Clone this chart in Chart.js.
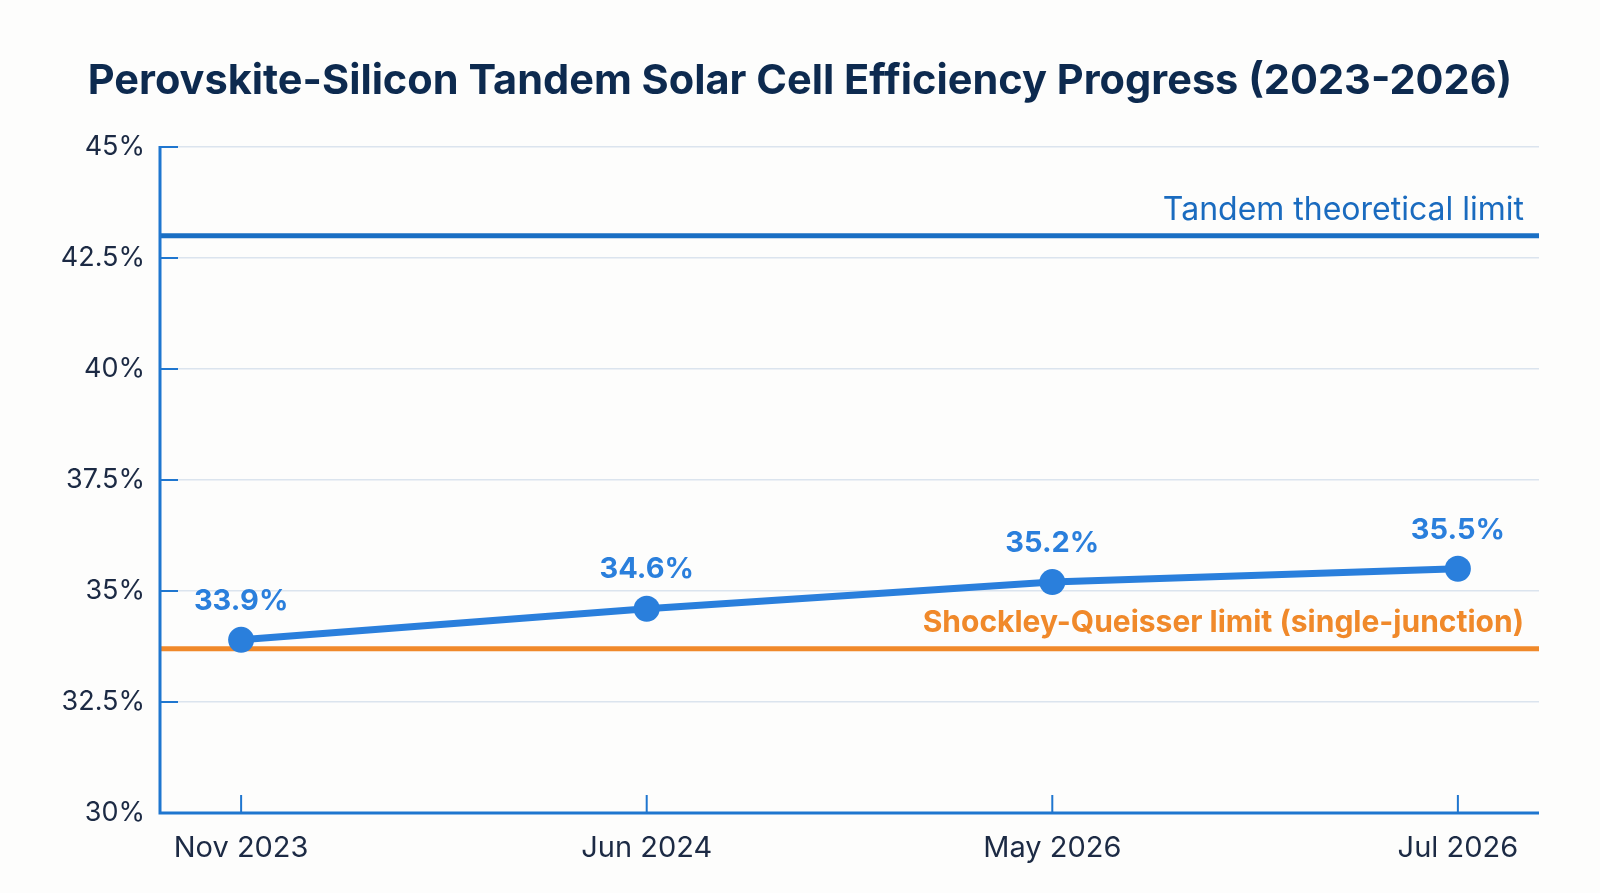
<!DOCTYPE html>
<html>
<head>
<meta charset="utf-8">
<script src="https://cdn.jsdelivr.net/npm/chart.js@4.4.1/dist/chart.umd.min.js"></script>
<style>
html,body{margin:0;padding:0;background:#fdfdfc;}
#wrap{width:1600px;height:893px;position:relative;}
</style>
</head>
<body>
<div id="wrap"><canvas id="c" width="1600" height="893"></canvas></div>
<script>
const titleText = 'Perovskite-Silicon Tandem Solar Cell Efficiency Progress (2023-2026)';
const categories = ['Nov 2023', 'Jun 2024', 'May 2026', 'Jul 2026'];
const efficiency = [33.9, 34.6, 35.2, 35.5];
const tandemLimit = 43.0;
const sqLimit = 33.7;
const tandemLabel = 'Tandem theoretical limit';
const sqLabel = 'Shockley-Queisser limit (single-junction)';
const yTicks = [30, 32.5, 35, 37.5, 40, 42.5, 45];

const FONT = 'Inter, "Open Sans", sans-serif';
const BLUE = '#2a7fdc';
const AXIS = '#1f76cf';

const xMin = -0.2, xMax = categories.length - 1 + 0.2;

const overlay = {
  id: 'overlay',
  afterDraw(chart) {
    const ctx = chart.ctx;
    const xs = chart.scales.x, ys = chart.scales.y;
    const area = chart.chartArea;
    ctx.save();
    // title
    ctx.fillStyle = '#0d2a4f';
    ctx.font = 'bold 41.5px ' + FONT;
    ctx.textAlign = 'center';
    ctx.textBaseline = 'middle';
    ctx.fillText(titleText, 800, 82);
    // axes
    ctx.strokeStyle = AXIS;
    ctx.lineWidth = 3;
    ctx.beginPath();
    ctx.moveTo(area.left, area.top - 1);
    ctx.lineTo(area.left, area.bottom);
    ctx.lineTo(area.right, area.bottom);
    ctx.stroke();
    // inner ticks
    ctx.lineWidth = 2;
    yTicks.forEach(v => {
      const y = ys.getPixelForValue(v);
      ctx.beginPath(); ctx.moveTo(area.left, y); ctx.lineTo(area.left + 18, y); ctx.stroke();
    });
    categories.forEach((c, i) => {
      const x = xs.getPixelForValue(i);
      ctx.beginPath(); ctx.moveTo(x, area.bottom); ctx.lineTo(x, area.bottom - 18); ctx.stroke();
    });
    // limit labels
    ctx.textAlign = 'right';
    ctx.textBaseline = 'middle';
    ctx.fillStyle = '#1a6bbf';
    ctx.font = '32px ' + FONT;
    ctx.fillText(tandemLabel, area.right - 15, ys.getPixelForValue(tandemLimit) - 25);
    ctx.fillStyle = '#f0892a';
    ctx.font = 'bold 30px ' + FONT;
    ctx.fillText(sqLabel, area.right - 15, ys.getPixelForValue(sqLimit) - 26);
    // value labels
    ctx.textAlign = 'center';
    ctx.fillStyle = BLUE;
    ctx.font = 'bold 29px ' + FONT;
    efficiency.forEach((v, i) => {
      ctx.fillText(v.toFixed(1) + '%', xs.getPixelForValue(i), ys.getPixelForValue(v) - 39);
    });
    ctx.restore();
  }
};

new Chart(document.getElementById('c'), {
  type: 'line',
  data: {
    datasets: [
      {
        data: efficiency.map((v, i) => ({x: i, y: v})),
        borderColor: BLUE, backgroundColor: BLUE,
        borderWidth: 7, pointRadius: 13, pointHoverRadius: 13,
        pointBackgroundColor: BLUE, pointBorderWidth: 0, order: 0
      },
      {
        data: [{x: xMin, y: tandemLimit}, {x: xMax, y: tandemLimit}],
        borderColor: '#1a6fc4', borderWidth: 5, pointRadius: 0, order: 1
      },
      {
        data: [{x: xMin, y: sqLimit}, {x: xMax, y: sqLimit}],
        borderColor: '#f0892a', borderWidth: 5, pointRadius: 0, order: 1
      }
    ]
  },
  options: {
    responsive: false,
    animation: false,
    events: [],
    layout: {padding: {top: 147, right: 61, left: 0, bottom: 0}},
    plugins: {legend: {display: false}, tooltip: {enabled: false}, title: {display: false}},
    scales: {
      x: {
        type: 'linear', min: xMin, max: xMax,
        afterBuildTicks: s => { s.ticks = categories.map((c, i) => ({value: i})); },
        afterFit: s => { s.height = 80; },
        grid: {display: false, drawTicks: false},
        border: {display: false},
        ticks: {
          padding: 18, color: '#1c2a44', font: {family: FONT, size: 29},
          callback: v => categories[v] ?? ''
        }
      },
      y: {
        min: 30, max: 45,
        afterBuildTicks: s => { s.ticks = yTicks.map(v => ({value: v})); },
        afterFit: s => { s.width = 160; },
        grid: {color: '#dbe4ee', lineWidth: 1.5, drawTicks: false},
        border: {display: false},
        ticks: {
          padding: 15, color: '#1c2a44', font: {family: FONT, size: 27},
          callback: v => v + '%'
        }
      }
    }
  },
  plugins: [overlay]
});
</script>
</body>
</html>
